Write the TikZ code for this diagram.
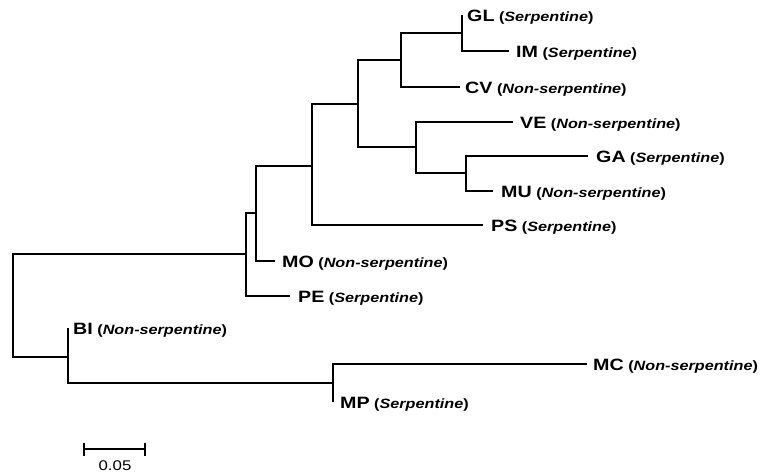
\documentclass[tikz,border=0pt]{standalone}
\usepackage{fontspec}
\setmainfont{Liberation Sans}
\newfontfamily\labfont[FakeStretch=1.2]{Liberation Sans}
\newcommand{\tiplab}[2]{{\labfont\bfseries\fontsize{16.4}{18}\selectfont #1}{\labfont\bfseries\fontsize{13.5}{15}\selectfont\ (\textit{#2})}}
\begin{document}
\begin{tikzpicture}[x=1pt,y=-1pt,
  br/.style={line width=2.4pt},
  lab/.style={anchor=base west, inner sep=0pt}]
\useasboundingbox (0,0) rectangle (772,474);
% internal nodes
\coordinate (root) at (13,305);
\coordinate (n1) at (246,254);
\coordinate (n2) at (256,213);
\coordinate (n3) at (312,166);
\coordinate (n4) at (358,104);
\coordinate (n5) at (401,60);
\coordinate (n6) at (462,33);
\coordinate (n7) at (416,147);
\coordinate (n8) at (466,173);
\coordinate (n9) at (68,357);
\coordinate (n10) at (333,383);
% tips
\coordinate (gl) at (462,15);
\coordinate (im) at (509,51);
\coordinate (cv) at (460,87);
\coordinate (ve) at (513,122);
\coordinate (ga) at (588,156);
\coordinate (mu) at (493,191);
\coordinate (ps) at (483,225);
\coordinate (mo) at (275,261);
\coordinate (pe) at (290,296);
\coordinate (bi) at (68,328);
\coordinate (mc) at (587,364);
\coordinate (mp) at (333,402);
% labels
\node[lab] (glL) at ([xshift=5pt,yshift=-6.5pt]gl) {\tiplab{GL}{Serpentine}};
\node[lab] (imL) at ([xshift=7pt,yshift=-6.5pt]im) {\tiplab{IM}{Serpentine}};
\node[lab] (cvL) at ([xshift=5pt,yshift=-6.5pt]cv) {\tiplab{CV}{Non-serpentine}};
\node[lab] (veL) at ([xshift=7pt,yshift=-6.5pt]ve) {\tiplab{VE}{Non-serpentine}};
\node[lab] (gaL) at ([xshift=8pt,yshift=-6.5pt]ga) {\tiplab{GA}{Serpentine}};
\node[lab] (muL) at ([xshift=8pt,yshift=-6.5pt]mu) {\tiplab{MU}{Non-serpentine}};
\node[lab] (psL) at ([xshift=8pt,yshift=-6.5pt]ps) {\tiplab{PS}{Serpentine}};
\node[lab] (moL) at ([xshift=7pt,yshift=-6.5pt]mo) {\tiplab{MO}{Non-serpentine}};
\node[lab] (peL) at ([xshift=8pt,yshift=-6.5pt]pe) {\tiplab{PE}{Serpentine}};
\node[lab] (biL) at ([xshift=5pt,yshift=-6.5pt]bi) {\tiplab{BI}{Non-serpentine}};
\node[lab] (mcL) at ([xshift=6pt,yshift=-6.5pt]mc) {\tiplab{MC}{Non-serpentine}};
\node[lab] (mpL) at ([xshift=7pt,yshift=-6.5pt]mp) {\tiplab{MP}{Serpentine}};
% branches
\draw[br] (root) |- (n1);
\draw[br] (root) |- (n9);
\draw[br] (n1) |- (n2);
\draw[br] (n1) |- (pe);
\draw[br] (n2) |- (n3);
\draw[br] (n2) |- (mo);
\draw[br] (n3) |- (n4);
\draw[br] (n3) |- (ps);
\draw[br] (n4) |- (n5);
\draw[br] (n4) |- (n7);
\draw[br] (n5) |- (n6);
\draw[br] (n5) |- (cv);
\draw[br] (n6) -- (gl);
\draw[br] (n6) |- (im);
\draw[br] (n7) |- (ve);
\draw[br] (n7) |- (n8);
\draw[br] (n8) |- (ga);
\draw[br] (n8) |- (mu);
\draw[br] (n9) -- (bi);
\draw[br] (n9) |- (n10);
\draw[br] (n10) |- (mc);
\draw[br] (n10) -- (mp);
% scale bar
\coordinate (sbl) at (84,449);
\coordinate (sbr) at (145,449);
\draw[br] (sbl) -- (sbr);
\draw[br] ([yshift=6.5pt]sbl) -- ([yshift=-6.5pt]sbl);
\draw[br] ([yshift=6.5pt]sbr) -- ([yshift=-6.5pt]sbr);
\node[inner sep=0pt] (sbt) at (115,466) {\labfont\fontsize{14}{16}\selectfont 0.05};
\end{tikzpicture}
\end{document}
